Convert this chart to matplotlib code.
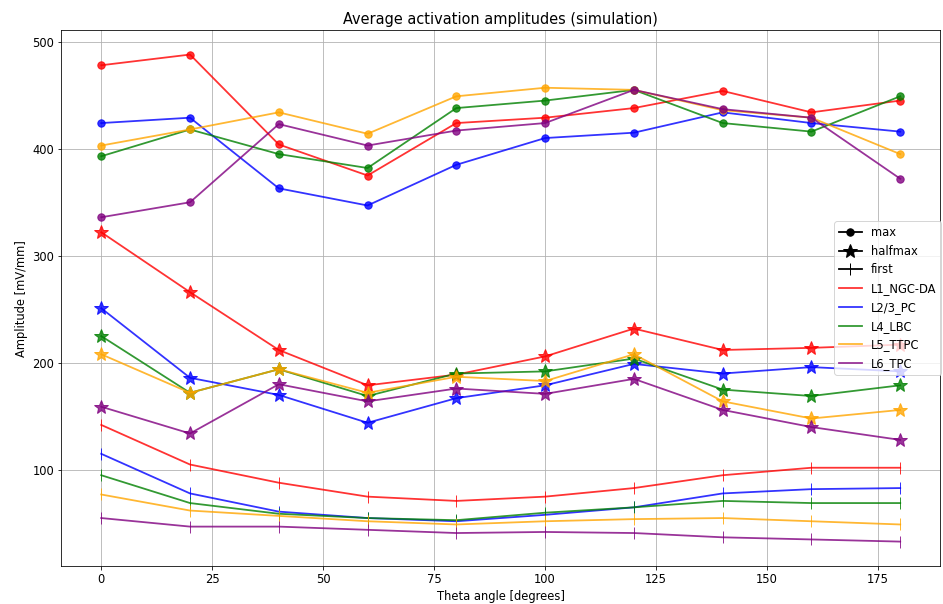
import matplotlib.pyplot as plt
from matplotlib.lines import Line2D

# angles of the simulation
theta = [0, 20, 40, 60, 80, 100, 120, 140, 160, 180]

layers = ["L1_NGC-DA", "L2/3_PC", "L4_LBC", "L5_TTPC", "L6_TPC"]
colors = ["red", "blue", "green", "orange", "purple"]

# max amplitude
amp_max = [
    [478, 488, 404, 375, 424, 429, 438, 454, 434, 445],
    [424, 429, 363, 347, 385, 410, 415, 434, 424, 416],
    [393, 418, 395, 382, 438, 445, 455, 424, 416, 449],
    [403, 418, 434, 414, 449, 457, 455, 436, 429, 395],
    [336, 350, 423, 403, 417, 424, 455, 437, 429, 372],
]

# halfmax amplitude
amp_half = [
    [322, 266, 212, 179, 189, 206, 232, 212, 214, 217],
    [251, 186, 170, 144, 167, 179, 199, 190, 196, 192],
    [225, 172, 194, 169, 190, 192, 204, 175, 169, 179],
    [208, 172, 194, 172, 187, 183, 208, 164, 148, 156],
    [159, 134, 180, 164, 176, 171, 185, 156, 140, 128],
]

# first peak amplitude
amp_first = [
    [142, 105, 88, 75, 71, 75, 83, 95, 102, 102],
    [115, 78, 61, 55, 52, 58, 65, 78, 82, 83],
    [95, 69, 59, 55, 53, 60, 65, 71, 69, 69],
    [77, 62, 57, 52, 49, 52, 54, 55, 52, 49],
    [55, 47, 47, 44, 41, 42, 41, 37, 35, 33],
]

plt.rcParams["font.size"] = 11.5
plt.rcParams["lines.linewidth"] = 1.8

fig = plt.figure(figsize=(943 / 72, 604 / 72), dpi=72)
ax = fig.add_axes([0.065, 0.063, 0.932, 0.887])

for i in range(len(layers)):
    ax.plot(theta, amp_max[i], marker="o", markersize=7.4, color=colors[i], alpha=0.8)
    ax.plot(theta, amp_half[i], marker="*", markersize=14, color=colors[i], alpha=0.8)
    ax.plot(theta, amp_first[i], marker="|", markersize=12, color=colors[i], alpha=0.8)

ax.grid(True)
ax.set_xlabel("Theta angle [degrees]")
ax.set_ylabel("Amplitude [mV/mm]")
ax.set_title("Average activation amplitudes (simulation)", fontsize=14.5)

# legend: marker types + layer colors
handles = [
    Line2D([0], [0], color="black", marker="o", markersize=7.4, label="max"),
    Line2D([0], [0], color="black", marker="*", markersize=14, label="halfmax"),
    Line2D([0], [0], color="black", marker="|", markersize=12, label="first"),
]
for name, c in zip(layers, colors):
    handles.append(Line2D([0], [0], color=c, alpha=0.8, label=name))
ax.legend(handles=handles, loc="center left", bbox_to_anchor=(0.873, 0.5))

plt.savefig("out.png", dpi=72)
